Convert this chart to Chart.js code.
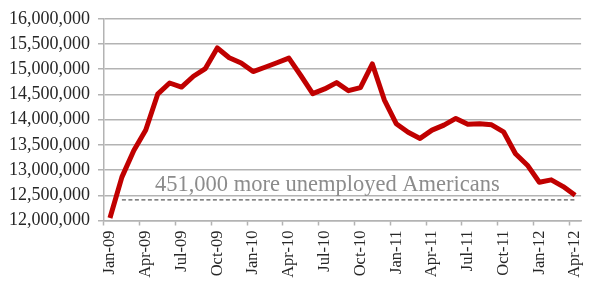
<!DOCTYPE html>
<html>
<head>
<meta charset="utf-8">
<script src="https://cdn.jsdelivr.net/npm/chart.js@4"></script>
<style>
html,body{margin:0;padding:0;background:#fff;}
#wrap{position:relative;width:600px;height:290px;}
</style>
</head>
<body>
<div id="wrap"><canvas id="c" width="600" height="290"></canvas></div>
<script>
const months = ["Jan-09","Feb-09","Mar-09","Apr-09","May-09","Jun-09","Jul-09","Aug-09","Sep-09","Oct-09","Nov-09","Dec-09",
"Jan-10","Feb-10","Mar-10","Apr-10","May-10","Jun-10","Jul-10","Aug-10","Sep-10","Oct-10","Nov-10","Dec-10",
"Jan-11","Feb-11","Mar-11","Apr-11","May-11","Jun-11","Jul-11","Aug-11","Sep-11","Oct-11","Nov-11","Dec-11",
"Jan-12","Feb-12","Mar-12","Apr-12"];
const unemployed = [12049000,12860000,13389000,13796000,14505000,14727000,14646000,14861000,15012000,15421000,15227000,15124000,
14953000,15039000,15128000,15221000,14876000,14517000,14609000,14735000,14574000,14636000,15104000,14393000,
13919000,13751000,13628000,13792000,13892000,14024000,13908000,13920000,13897000,13759000,13323000,13097000,
12758000,12806000,12673000,12500000];
const referenceLine = [null,12410000,12410000,12410000,12410000,12410000,12410000,12410000,12410000,12410000,12410000,12410000,
12410000,12410000,12410000,12410000,12410000,12410000,12410000,12410000,12410000,12410000,12410000,12410000,
12410000,12410000,12410000,12410000,12410000,12410000,12410000,12410000,12410000,12410000,12410000,12410000,
12410000,12410000,12410000,12410000];
const annotationText = "451,000 more unemployed Americans";
const yMin = 12000000, yMax = 16000000, yStep = 500000;

const FONT = "'Liberation Serif', 'Times New Roman', serif";
const GRID = "#b3b3b3";

const annotationPlugin = {
  id: 'annot',
  afterDatasetsDraw(chart) {
    const ctx = chart.ctx;
    const y = chart.scales.y.getPixelForValue(referenceLine[1]);
    const x = chart.scales.x.getPixelForValue(1) + 33;
    ctx.save();
    ctx.font = "22.5px " + FONT;
    ctx.fillStyle = "#8c8c8c";
    ctx.textBaseline = "alphabetic";
    ctx.textAlign = "left";
    ctx.fillText(annotationText, x, y - 9);
    ctx.restore();
  }
};

new Chart(document.getElementById('c'), {
  type: 'line',
  data: {
    labels: months,
    datasets: [
      {
        data: referenceLine,
        borderColor: '#595959',
        borderWidth: 1.3,
        borderDash: [4, 2.5],
        pointRadius: 0,
        fill: false,
        tension: 0,
        order: 2
      },
      {
        data: unemployed,
        borderColor: '#c00000',
        borderWidth: 5,
        borderJoinStyle: 'round',
        borderCapStyle: 'butt',
        pointRadius: 0,
        fill: false,
        tension: 0,
        order: 1
      }
    ]
  },
  options: {
    responsive: false,
    animation: false,
    events: [],
    layout: { padding: { top: 15, right: 7, bottom: 0, left: 0 } },
    plugins: { legend: { display: false }, tooltip: { enabled: false } },
    scales: {
      x: {
        type: 'category',
        offset: true,
        grid: {
          offset: true,
          drawOnChartArea: false,
          drawTicks: true,
          tickLength: 5,
          tickWidth: 1.5,
          tickColor: (c) => (c.index % 3 === 0 && c.index < months.length) ? GRID : 'rgba(0,0,0,0)'
        },
        border: { display: true, color: GRID, width: 1.5 },
        ticks: {
          autoSkip: false,
          maxRotation: 90,
          minRotation: 90,
          padding: 5,
          color: '#262626',
          font: { family: FONT, size: 16.5 },
          callback: function(v, i) { return i % 3 === 0 ? months[i] : ''; }
        },
        afterFit(scale) { scale.height = 69.5; }
      },
      y: {
        min: yMin,
        max: yMax,
        grid: {
          color: GRID,
          lineWidth: 1.5,
          drawTicks: true,
          tickLength: 6
        },
        border: { display: true, color: GRID, width: 1.5 },
        ticks: {
          stepSize: yStep,
          padding: 8,
          color: '#262626',
          font: { family: FONT, size: 18 },
          callback: (v) => Number(v).toLocaleString('en-US')
        },
        afterFit(scale) { scale.width = 104; }
      }
    }
  },
  plugins: [annotationPlugin]
});
</script>
</body>
</html>
